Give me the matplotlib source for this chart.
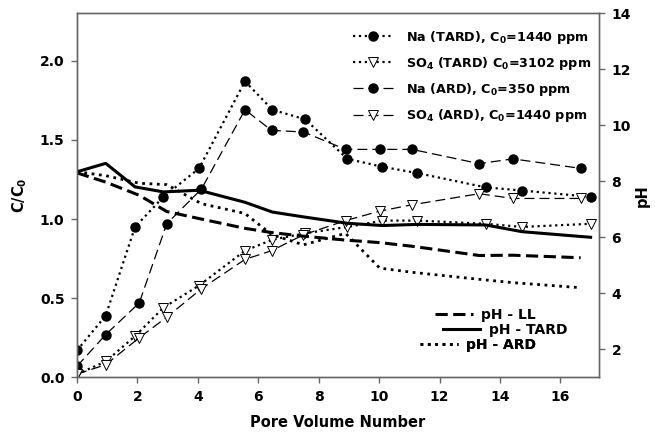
import matplotlib
matplotlib.use("Agg")
import matplotlib.pyplot as plt

plt.rcParams["font.family"] = "DejaVu Sans"
plt.rcParams["font.weight"] = "bold"
plt.rcParams["mathtext.default"] = "bf"

# pore volume numbers for the two column runs
x_tard = [0, 0.95, 1.92, 2.86, 4.04, 5.56, 6.47, 7.55, 8.95, 10.11, 11.27, 13.53, 14.73, 17.0]
x_ard = [0, 0.95, 2.06, 2.97, 4.12, 5.56, 6.44, 7.49, 8.89, 10.02, 11.09, 13.31, 14.43, 16.67]

# C/C0
na_tard = [0.17, 0.39, 0.95, 1.14, 1.32, 1.87, 1.69, 1.63, 1.38, 1.33, 1.29, 1.20, 1.18, 1.14]
so4_tard = [0.02, 0.10, 0.26, 0.44, 0.58, 0.80, 0.87, 0.91, 0.95, 0.99, 0.99, 0.97, 0.95, 0.97]
na_ard = [0.07, 0.27, 0.47, 0.97, 1.19, 1.69, 1.56, 1.55, 1.44, 1.44, 1.44, 1.35, 1.38, 1.32]
so4_ard = [0.02, 0.08, 0.25, 0.38, 0.56, 0.745, 0.80, 0.90, 0.99, 1.05, 1.09, 1.16, 1.13, 1.13]

# pH
ph_tard = [8.34, 8.64, 7.8, 7.62, 7.68, 7.25, 6.9, 6.72, 6.5, 6.42, 6.46, 6.44, 6.2, 6.0]
ph_ll = [8.3, 7.97, 7.5, 6.92, 6.65, 6.32, 6.17, 6.04, 5.9, 5.81, 5.68, 5.35, 5.36, 5.27]
ph_ard = [8.34, 8.2, 7.93, 7.88, 7.2, 6.85, 6.1, 5.73, 6.14, 4.9, 4.75, 4.5, 4.38, 4.2]

conc_labels = [
    "Na (TARD), C$_0$=1440 ppm",
    "SO$_4$ (TARD) C$_0$=3102 ppm",
    "Na (ARD), C$_0$=350 ppm",
    "SO$_4$ (ARD), C$_0$=1440 ppm",
]
ph_labels = ["pH - LL", "pH - TARD", "pH - ARD"]

fig = plt.figure(figsize=(6.55, 4.36), dpi=100)
ax = fig.add_axes([0.1176, 0.1346, 0.797, 0.835])
ax2 = ax.twinx()

ms = 6.5
l1, = ax.plot(x_tard, na_tard, linestyle=":", lw=1.6, color="k",
              marker="o", ms=ms, mfc="k", mec="k")
l2, = ax.plot(x_tard, so4_tard, linestyle=":", lw=1.6, color="k",
              marker="v", ms=ms + 0.5, mfc="white", mec="k", mew=0.7)
l3, = ax.plot(x_ard, na_ard, linestyle=(0, (8, 4)), lw=0.9, color="k",
              marker="o", ms=ms, mfc="k", mec="k")
l4, = ax.plot(x_ard, so4_ard, linestyle=(0, (8, 4)), lw=0.9, color="k",
              marker="v", ms=ms + 0.5, mfc="white", mec="k", mew=0.7)

p1, = ax2.plot(x_ard, ph_ll, linestyle=(0, (4, 1.8)), lw=2.2, color="k")
p2, = ax2.plot(x_tard, ph_tard, linestyle="-", lw=2.2, color="k")
p3, = ax2.plot(x_ard, ph_ard, linestyle=":", lw=2.0, color="k")

ax.set_xlim(0, 17.28)
ax.set_ylim(0, 2.3)
ax2.set_ylim(1, 14)
ax.set_xticks([0, 2, 4, 6, 8, 10, 12, 14, 16])
ax.set_yticks([0.0, 0.5, 1.0, 1.5, 2.0])
ax2.set_yticks([2, 4, 6, 8, 10, 12, 14])

for a in (ax, ax2):
    for s in a.spines.values():
        s.set_color("#666666")
        s.set_linewidth(1.0)
    a.tick_params(direction="out", length=4, width=1, color="#666666",
                  labelsize=10, pad=5)

ax.set_xlabel("Pore Volume Number", fontsize=10.5, fontweight="bold", labelpad=8)
ax.set_ylabel("C/C$_0$", fontsize=10.5, fontweight="bold", labelpad=8)
ax2.set_ylabel("pH", fontsize=10.5, fontweight="bold", labelpad=3)

leg = ax2.legend([l1, l2, l3, l4], conc_labels, loc="upper left",
                 bbox_to_anchor=(0.529, 0.958), frameon=False, fontsize=9.2,
                 handlelength=3.1, handletextpad=1.0, labelspacing=0.72,
                 borderpad=0, borderaxespad=0, markerscale=1.0)
ax2.add_artist(leg)

ph_pos = [(0.686, 0.171), (0.701, 0.130), (0.657, 0.089)]
for h, lab, pos in zip([p1, p2, p3], ph_labels, ph_pos):
    lg = ax2.legend([h], [lab], loc="center left", bbox_to_anchor=pos,
                    frameon=False, fontsize=10, handlelength=2.7,
                    handletextpad=0.6, borderpad=0, borderaxespad=0)
    ax2.add_artist(lg)

fig.savefig("out.png", dpi=100)
